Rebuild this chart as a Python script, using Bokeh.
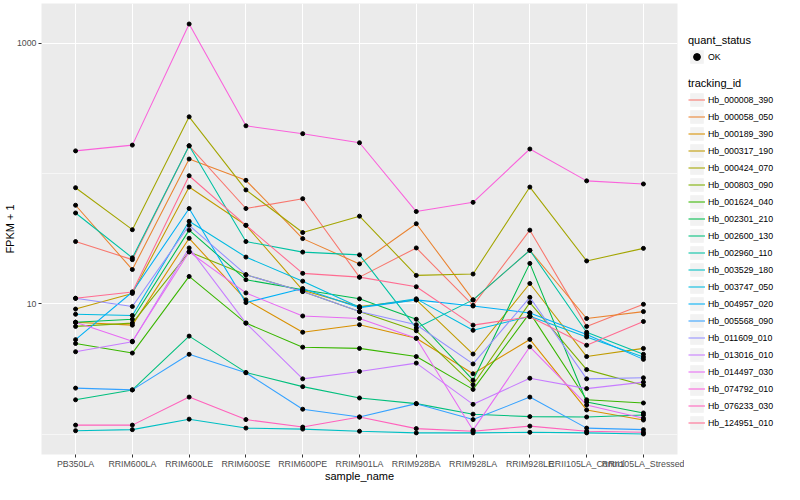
import numpy as np
from bokeh.plotting import figure
from bokeh.layouts import row
from bokeh.models import (FactorRange, Range1d, FixedTicker, Legend, LegendItem,
                          BasicTickFormatter)
from bokeh.embed import file_html
from bokeh.resources import INLINE

# ---------------- data ----------------
samples = ["PB350LA", "RRIM600LA", "RRIM600LE", "RRIM600SE", "RRIM600PE",
           "RRIM901LA", "RRIM928BA", "RRIM928LA", "RRIM928LE",
           "RRII105LA_Control", "RRII105LA_Stressed"]

tracking_ids = ["Hb_000008_390", "Hb_000058_050", "Hb_000189_390", "Hb_000317_190",
                "Hb_000424_070", "Hb_000803_090", "Hb_001624_040", "Hb_002301_210",
                "Hb_002600_130", "Hb_002960_110", "Hb_003529_180", "Hb_003747_050",
                "Hb_004957_020", "Hb_005568_090", "Hb_011609_010", "Hb_013016_010",
                "Hb_014497_030", "Hb_074792_010", "Hb_076233_030", "Hb_124951_010"]

hue_colors = ["#F8766D", "#EA8331", "#D89000", "#C09B00", "#A3A500", "#7CAE00",
              "#39B600", "#00BB4E", "#00BF7D", "#00C1A3", "#00BFC4", "#00BAE0",
              "#00B0F6", "#35A2FF", "#9590FF", "#C77CFF", "#E76BF3", "#FA62DB",
              "#FF62BC", "#FF6C91"]

# FPKM + 1 per sample (order of `samples`)
hb_000008_390 = [30, 21.8, 163, 53.8, 64, 16, 26.8, 9.7, 36.7, 6.7, 9.9]
hb_000058_050 = [57, 18.3, 129, 88.6, 31.6, 20.2, 41.1, 10.7, 25.7, 7.7, 8.7]
hb_000189_390 = [7.2, 6.85, 31.8, 10.7, 6.04, 6.9, 5.43, 2.9, 5.32, 1.53, 1.28]
hb_000317_190 = [9.1, 12.0, 78.6, 40, 12.7, 9.5, 10.7, 4.11, 14.3, 3.93, 4.54]
hb_000424_070 = [77.7, 37, 272, 74.7, 35.2, 47, 16.5, 16.9, 78.6, 21.3, 26.6]
hb_000803_090 = [6.7, 7.1, 25, 16.7, 12.4, 8.7, 6.2, 2.39, 10.2, 3.12, 2.37]
hb_001624_040 = [4.95, 4.18, 16.2, 7.1, 4.64, 4.54, 3.93, 2.2, 8.5, 1.83, 1.73]
hb_002301_210 = [7.2, 7.6, 36.7, 15.3, 12.8, 10.9, 7.6, 2.59, 20.4, 1.76, 1.45]
hb_002600_130 = [1.83, 2.18, 5.64, 2.97, 2.31, 1.89, 1.71, 1.42, 1.36, 1.35, 1.40]
hb_002960_110 = [49.7, 22.5, 163, 30, 24.9, 23.7, 6.5, 10.7, 25.7, 6.04, 4.09]
hb_003529_180 = [1.06, 1.08, 1.30, 1.11, 1.09, 1.05, 1.02, 1.02, 1.03, 1.02, 1.0]
hb_003747_050 = [8.3, 8.13, 42.9, 22.8, 14.9, 9.4, 10.9, 6.25, 8.0, 5.55, 3.9]
hb_004957_020 = [5.3, 12.3, 53.8, 10.2, 13.1, 9.3, 10.7, 9.6, 8.5, 5.8, 3.74]
hb_005568_090 = [2.25, 2.18, 4.09, 2.95, 1.55, 1.35, 1.71, 1.29, 1.92, 1.11, 1.08]
hb_011609_010 = [11.0, 9.52, 40, 16.7, 12.4, 8.7, 6.9, 3.45, 11.2, 2.65, 2.7]
hb_013016_010 = [4.28, 5.1, 26.8, 7.1, 2.65, 3.02, 3.5, 1.69, 2.68, 2.23, 2.5]
hb_014497_030 = [7.2, 5.15, 25.0, 12.1, 8.05, 7.7, 5.43, 1.07, 4.67, 1.67, 1.32]
hb_074792_010 = [149, 165, 1403, 232, 202, 172, 51, 60, 154, 87.7, 83]
hb_076233_030 = [1.17, 1.17, 1.92, 1.29, 1.13, 1.35, 1.10, 1.05, 1.15, 1.05, 1.03]
hb_124951_010 = [11.0, 12.3, 96, 40, 17.1, 16, 13.5, 6.85, 7.95, 4.8, 7.3]

series = [hb_000008_390, hb_000058_050, hb_000189_390, hb_000317_190, hb_000424_070,
          hb_000803_090, hb_001624_040, hb_002301_210, hb_002600_130, hb_002960_110,
          hb_003529_180, hb_003747_050, hb_004957_020, hb_005568_090, hb_011609_010,
          hb_013016_010, hb_014497_030, hb_074792_010, hb_076233_030, hb_124951_010]

y_ticks = [10, 1000]
y_minor = [1, 100, 10000]

# --------------- main figure ---------------
allv = np.array(series, dtype=float)
lo, hi = np.log10(allv.min()), np.log10(allv.max())
pad = 0.05 * (hi - lo)

FONT = "Liberation Sans"
H = 484
p = figure(width=684, height=H,
           x_range=FactorRange(factors=samples, range_padding=0.1,
                               range_padding_units="absolute"),
           y_range=Range1d(10 ** (lo - pad), 10 ** (hi + pad)),
           y_axis_type="log", output_backend="svg", toolbar_location=None,
           min_border_left=38, min_border_right=7, min_border_top=3,
           min_border_bottom=16)

p.background_fill_color = "#EBEBEB"
p.border_fill_color = "white"
p.outline_line_color = None

p.xgrid.grid_line_color = "white"
p.xgrid.grid_line_width = 1.07
p.ygrid.grid_line_color = "white"
p.ygrid.grid_line_width = 1.07
p.ygrid.minor_grid_line_color = "white"
p.ygrid.minor_grid_line_width = 0.55

p.yaxis.ticker = FixedTicker(ticks=y_ticks, minor_ticks=y_minor)
p.yaxis.formatter = BasicTickFormatter(use_scientific=False)

for ax in (p.xaxis[0], p.yaxis[0]):
    ax.axis_line_color = None
    ax.major_tick_line_color = "#333333"
    ax.major_tick_out = 3
    ax.major_tick_in = 0
    ax.minor_tick_line_color = None
    ax.major_label_text_font = FONT
    ax.major_label_text_font_size = "8.8px"
    ax.major_label_text_color = "#4D4D4D"
    ax.major_label_text_line_height = 1.0
    ax.major_label_standoff = 1
    ax.axis_label_text_font = FONT
    ax.axis_label_text_font_size = "11px"
    ax.axis_label_text_font_style = "normal"
    ax.axis_label_text_color = "black"
    ax.axis_label_text_line_height = 1.0
    ax.axis_label_standoff = -2

p.xaxis.axis_label = "sample_name"
p.yaxis.axis_label = "FPKM + 1"

for vals, col in zip(series, hue_colors):
    p.line(x=samples, y=vals, line_color=col, line_width=1.07)

for vals in series:
    p.scatter(x=samples, y=vals, size=4, color="black")

# --------------- legend panel ---------------
lp = figure(width=100, height=H, x_range=Range1d(0, 1), y_range=Range1d(0, 1),
            x_axis_location=None, y_axis_location=None,
            output_backend="svg", toolbar_location=None,
            min_border_left=0, min_border_right=0, min_border_top=0,
            min_border_bottom=0)
lp.grid.visible = False
lp.outline_line_color = None
lp.background_fill_color = "white"
lp.border_fill_color = "white"

# legend key proxies, placed outside the visible range of the legend panel
off = [-5]
key_bg = lp.rect(x=off, y=off, width=1, height=1, fill_color="#F2F2F2", line_color=None)
key_pt = lp.scatter(x=off, y=off, size=4, color="black", marker="circle")
key_lines = [lp.line(x=off + off, y=off + off, line_color=c, line_width=1.07)
             for c in hue_colors]

leg_q = Legend(items=[LegendItem(label="OK", renderers=[key_bg, key_pt])],
               title="quant_status", location=(4, 389))
leg_t = Legend(items=[LegendItem(label=t, renderers=[key_bg, r])
                      for t, r in zip(tracking_ids, key_lines)],
               title="tracking_id", location=(4, 23))

for lg in (leg_q, leg_t):
    lg.title_text_font = FONT
    lg.title_text_font_size = "11px"
    lg.title_text_font_style = "normal"
    lg.title_text_color = "black"
    lg.title_standoff = 2
    lg.label_text_font = FONT
    lg.label_text_font_size = "8.8px"
    lg.label_text_color = "black"
    lg.glyph_width = 17
    lg.glyph_height = 17
    lg.label_height = 17
    lg.label_standoff = 3
    lg.spacing = 0
    lg.padding = 0
    lg.margin = 0
    lg.border_line_color = None
    lg.background_fill_alpha = 0
    lp.add_layout(lg)

open("out.html", "w").write(file_html(row(p, lp), INLINE))
